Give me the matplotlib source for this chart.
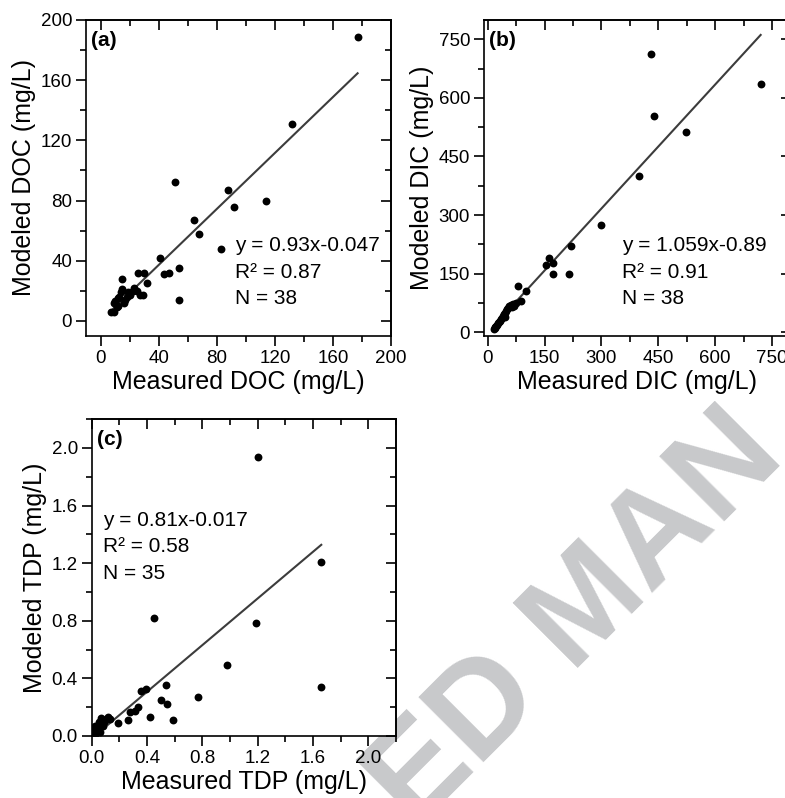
import matplotlib
matplotlib.use('Agg')
import matplotlib.pyplot as plt
from matplotlib.ticker import MultipleLocator, FormatStrFormatter, NullFormatter
from matplotlib.transforms import Bbox, TransformedBbox

plt.rcParams['font.family'] = 'Liberation Sans'

# (a) DOC, mg/L
doc_measured = [177, 132, 51, 88, 92, 114, 64, 68, 83, 41, 54, 54, 44, 47, 15, 26, 30, 32, 29, 27,
                7, 9, 14, 12, 19, 9, 17, 23, 20, 12, 16, 10, 18, 25, 13, 15, 11, 22]
doc_modeled = [189, 131, 92, 87, 76, 80, 67, 58, 48, 42, 35, 14, 31, 32, 28, 32, 32, 25, 17, 17,
               6, 6, 19, 15, 19, 12, 14, 22, 17, 10, 12, 13, 16, 20, 16, 21, 9, 20]
doc_fit = (0.93, -0.047)
doc_stats = ['y = 0.93x-0.047', 'R\u00b2 = 0.87', 'N = 38']

# (b) DIC, mg/L
dic_measured = [430, 720, 439, 524, 399, 298, 219, 213, 173, 162, 153, 173, 79, 102, 88,
                16, 18, 20, 22, 25, 27, 30, 32, 35, 37, 40, 42, 45, 48, 50, 53, 56, 60, 63, 66, 70, 74, 45]
dic_modeled = [712, 636, 555, 513, 401, 275, 221, 149, 149, 189, 172, 177, 117, 106, 80,
               8, 10, 12, 15, 18, 22, 25, 28, 33, 37, 42, 46, 50, 55, 58, 62, 66, 70, 64, 73, 68, 75, 38]
dic_fit = (1.059, -0.89)
dic_stats = ['y = 1.059x-0.89', 'R\u00b2 = 0.91', 'N = 38']

# (c) TDP, mg/L
tdp_measured = [1.20, 1.66, 1.19, 0.45, 0.98, 1.66, 0.77, 0.535, 0.355, 0.39, 0.50, 0.545, 0.585,
                0.42, 0.335, 0.31, 0.28, 0.265, 0.19, 0.12, 0.07, 0.06, 0.035, 0.01, 0.02, 0.05,
                0.09, 0.10, 0.03, 0.015, 0.04, 0.08, 0.13, 0.025, 0.06]
tdp_modeled = [1.94, 1.21, 0.785, 0.82, 0.49, 0.34, 0.27, 0.355, 0.31, 0.325, 0.25, 0.225, 0.11,
               0.135, 0.20, 0.175, 0.165, 0.11, 0.088, 0.13, 0.125, 0.08, 0.06, 0.035, 0.05, 0.10,
               0.10, 0.12, 0.02, 0.01, 0.04, 0.07, 0.12, 0.07, 0.03]
tdp_fit = (0.81, -0.017)
tdp_stats = ['y = 0.81x-0.017', 'R\u00b2 = 0.58', 'N = 35']


def draw_panel(ax, x, y, fit, stats, tag, xlabel, ylabel, lim, major, fmt, stat_pos):
    ax.scatter(x, y, s=32, color='black', linewidths=0, zorder=3)
    x0, x1 = min(x), max(x)
    ax.plot([x0, x1], [fit[0] * x0 + fit[1], fit[0] * x1 + fit[1]], color='#3c3c3c', lw=1.5, zorder=2)

    ax.set_xlim(lim)
    ax.set_ylim(lim)
    for axis in (ax.xaxis, ax.yaxis):
        axis.set_major_locator(MultipleLocator(major))
        axis.set_minor_locator(MultipleLocator(major / 2))
        axis.set_major_formatter(FormatStrFormatter(fmt))
    ax.tick_params(which='both', direction='out', width=1.2, labelsize=13.5, pad=3)
    ax.tick_params(which='major', length=7)
    ax.tick_params(which='minor', length=4)
    for s in ax.spines.values():
        s.set_linewidth(1.2)

    # mirrored ticks on top and right, pointing inward
    top = ax.secondary_xaxis('top')
    right = ax.secondary_yaxis('right')
    for sec, axis in ((top, top.xaxis), (right, right.yaxis)):
        axis.set_major_locator(MultipleLocator(major))
        axis.set_minor_locator(MultipleLocator(major / 2))
        axis.set_major_formatter(NullFormatter())
        sec.tick_params(which='both', direction='in', width=1.2)
        sec.tick_params(which='major', length=7)
        sec.tick_params(which='minor', length=4)
        for s in sec.spines.values():
            s.set_linewidth(1.2)

    ax.set_xlabel(xlabel, fontsize=18, labelpad=2)
    ax.set_ylabel(ylabel, fontsize=18, labelpad=3)
    ax.text(0.016, 0.935, tag, transform=ax.transAxes, fontsize=15, fontweight='bold',
            va='center', ha='left')
    sx, sy, dy = stat_pos
    for i, line in enumerate(stats):
        ax.text(sx, sy - i * dy, line, transform=ax.transAxes, fontsize=15, va='center', ha='left')


fig = plt.figure(figsize=(7.85, 7.98), dpi=100)

# watermark behind the panels, only below the top row
wm = fig.text(0.735, 0.222, 'ED MAN', rotation=45, fontsize=96, fontweight='bold',
              color='#c8c9cb', ha='center', va='center', zorder=-5)
wm.set_clip_box(TransformedBbox(Bbox([[0, 0], [1, 0.497]]), fig.transFigure))
wm.set_clip_on(True)

ax_a = fig.add_axes([0.1096, 0.579, 0.3885, 0.396])
ax_b = fig.add_axes([0.6166, 0.579, 0.391, 0.396])
ax_c = fig.add_axes([0.1168, 0.0777, 0.3876, 0.397])

draw_panel(ax_a, doc_measured, doc_modeled, doc_fit, doc_stats, '(a)',
           'Measured DOC (mg/L)', 'Modeled DOC (mg/L)', (-10, 200), 40, '%d', (0.489, 0.285, 0.084))
draw_panel(ax_b, dic_measured, dic_modeled, dic_fit, dic_stats, '(b)',
           'Measured DIC (mg/L)', 'Modeled DIC (mg/L)', (-10, 800), 150, '%d', (0.449, 0.285, 0.084))
draw_panel(ax_c, tdp_measured, tdp_modeled, tdp_fit, tdp_stats, '(c)',
           'Measured TDP (mg/L)', 'Modeled TDP (mg/L)', (0, 2.2), 0.4, '%.1f', (0.037, 0.681, 0.084))

fig.savefig('out.png', dpi=100)
